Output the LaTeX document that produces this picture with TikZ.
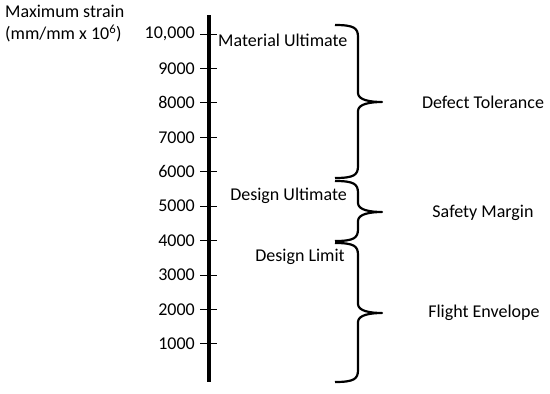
\documentclass[tikz,border=0pt]{standalone}
\usepackage{fontspec}
\setmainfont{Carlito}
\usetikzlibrary{positioning,calc}
% curly brace from #1 (top) via the tip #2 to #3 (bottom)
\newcommand{\rngbrace}[3]{%
  \draw[brc] (#1) .. controls +(19,0) and +(0,-9) .. ($(#1)+(23,12)$)
    -- ($(#2)+(-24,-9)$) .. controls +(0,7) and +(-12,0) .. (#2)
    .. controls +(-12,0) and +(0,-7) .. ($(#2)+(-24,9)$)
    -- ($(#3)+(23,-12)$) .. controls +(0,9) and +(19,0) .. (#3);}

\begin{document}
\begin{tikzpicture}[x=1pt,y=-1pt,
    lab/.style={font=\fontsize{18}{22}\selectfont,inner sep=0pt},
    tk/.style={line width=1pt},
    axis/.style={line width=3.5pt},
    brc/.style={line width=2.2pt,line join=round}
  ]
  \useasboundingbox (0,0) rectangle (550,394);
  % title of the scale
  \node[lab,align=left,anchor=north west] (ttl) at (5,5)
    {Maximum strain\\(mm/mm x 10\textsuperscript{6})};
  % the strain axis
  \coordinate (top) at (209,15);
  \coordinate (bot) at (209,382);
  \draw[axis] (top) -- (bot);
  % ticks and values
  \foreach \k/\v in {1/1000,2/2000,3/3000,4/4000,5/5000,6/6000,7/7000,
      8/8000,9/9000,10/{10,000}} {
    \coordinate (tl\k) at (200,{378.4-34.44*\k});
    \coordinate (tr\k) at (217,{378.4-34.44*\k});
    \draw[tk] (tl\k) -- (tr\k);
    \node[lab,anchor=east] (v\k) at (195,{378.4-34.44*\k}) {\v};
  }
  % strain levels
  \node[lab,anchor=west] (MU) at (218,40) {Material Ultimate};
  \node[lab,anchor=east] (DU) at (347,196) {Design Ultimate};
  \node[lab,anchor=east] (DL) at (345,257) {Design Limit};
  % braces and the ranges
  \coordinate (b1) at (335,25);
  \coordinate (m1) at (382,102);
  \coordinate (b2) at (335,178);
  \coordinate (b3) at (335,181);
  \coordinate (m2) at (382,212);
  \coordinate (b4) at (335,241);
  \coordinate (b5) at (335,243);
  \coordinate (m3) at (382,313);
  \coordinate (b6) at (335,382);
  \rngbrace{b1}{m1}{b2}
  \rngbrace{b3}{m2}{b4}
  \rngbrace{b5}{m3}{b6}
  \node[lab] (DT) at (483,102) {Defect Tolerance};
  \node[lab] (SM) at (483,213) {Safety Margin};
  \node[lab] (FE) at (484,313) {Flight Envelope};
\end{tikzpicture}
\end{document}
